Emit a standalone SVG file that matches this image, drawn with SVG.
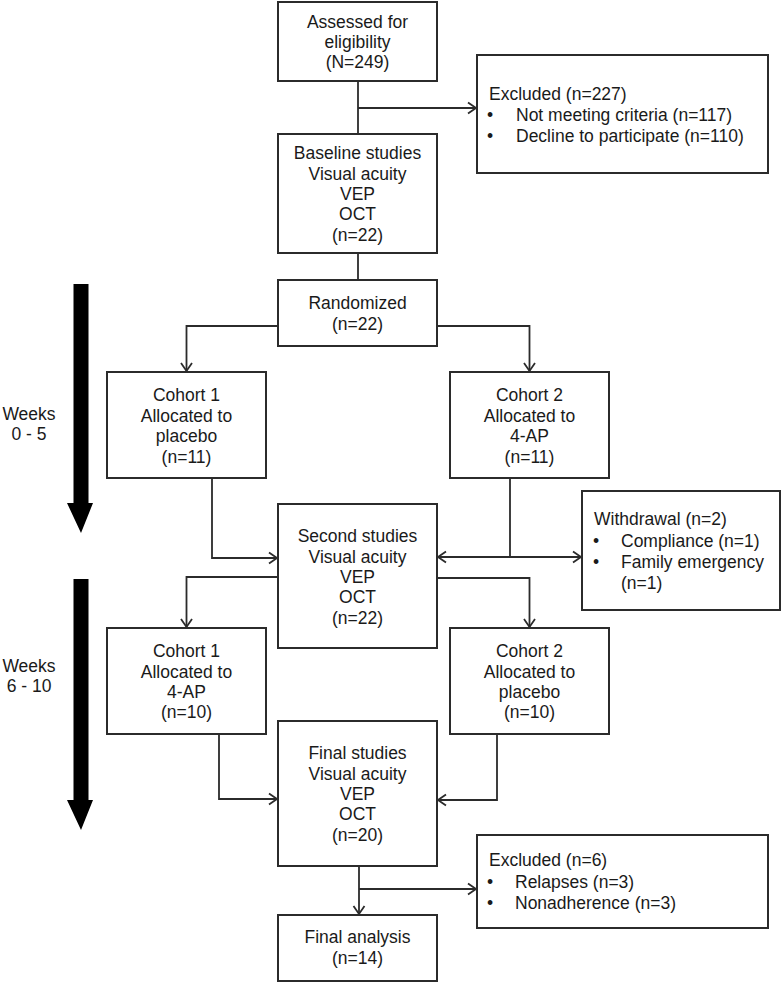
<svg xmlns="http://www.w3.org/2000/svg" width="783" height="983" viewBox="0 0 783 983">
<style>
.box{fill:#fff;stroke:#2b2b2b;stroke-width:2}
.t{font-family:"Liberation Sans",Arial,sans-serif;font-size:17.5px;fill:#1a1a1a}
.c{text-anchor:middle}
.ln{fill:none;stroke:#2b2b2b;stroke-width:1.8}
.big{fill:#000}
</style>
<defs>
<marker id="ah" markerUnits="userSpaceOnUse" markerWidth="12" markerHeight="14" viewBox="-10 -7 12 14" refX="0" refY="0" orient="auto-start-reverse">
<path d="M-8,-5.5 L0,0 L-8,5.5" fill="none" stroke="#2b2b2b" stroke-width="1.8"/>
</marker>
</defs>
<rect width="783" height="983" fill="#fff"/>

<g id="timeline">
<polygon class="big" points="73.5,284 88.5,284 88.5,503 93,503 81,533 67,503 73.5,503"/>
<polygon class="big" points="73.5,579 88.5,579 88.5,800 93,800 81,830 67,800 73.5,800"/>
<text class="t c" x="29" y="420">Weeks</text>
<text class="t c" x="29" y="440">0 - 5</text>
<text class="t c" x="29" y="672">Weeks</text>
<text class="t c" x="29" y="692">6 - 10</text>
</g>

<g id="connectors">
<path class="ln" d="M358,81 V134"/>
<path class="ln" d="M358,108 H476" marker-end="url(#ah)"/>
<path class="ln" d="M358,253 V280"/>
<path class="ln" d="M278,326 H186.5 V371" marker-end="url(#ah)"/>
<path class="ln" d="M437,326 H529.5 V371" marker-end="url(#ah)"/>
<path class="ln" d="M212,478 V558 H277" marker-end="url(#ah)"/>
<path class="ln" d="M510,478 V557"/>
<path class="ln" d="M438,557 H581" marker-start="url(#ah)" marker-end="url(#ah)"/>
<path class="ln" d="M278,577 H186.5 V627" marker-end="url(#ah)"/>
<path class="ln" d="M437,578 H529.5 V627" marker-end="url(#ah)"/>
<path class="ln" d="M219,734 V799 H277" marker-end="url(#ah)"/>
<path class="ln" d="M497,734 V800 H438" marker-end="url(#ah)"/>
<path class="ln" d="M359,866 V914" marker-end="url(#ah)"/>
<path class="ln" d="M359,889 H476" marker-end="url(#ah)"/>
</g>

<g id="assessed">
<rect class="box" x="278" y="2" width="159" height="79"/>
<text class="t c" x="357.5" y="28">Assessed for</text>
<text class="t c" x="357.5" y="48">eligibility</text>
<text class="t c" x="357.5" y="68">(N=249)</text>
</g>

<g id="excluded1">
<rect class="box" x="477" y="55" width="291" height="118"/>
<text class="t" x="489" y="100">Excluded (n=227)</text>
<text class="t" x="487" y="121">•</text>
<text class="t" x="516" y="121">Not meeting criteria (n=117)</text>
<text class="t" x="487" y="142">•</text>
<text class="t" x="516" y="142">Decline to participate (n=110)</text>
</g>

<g id="baseline">
<rect class="box" x="278" y="134" width="159" height="119"/>
<text class="t c" x="357.5" y="159">Baseline studies</text>
<text class="t c" x="357.5" y="179.5">Visual acuity</text>
<text class="t c" x="357.5" y="200">VEP</text>
<text class="t c" x="357.5" y="220">OCT</text>
<text class="t c" x="357.5" y="240.5">(n=22)</text>
</g>

<g id="randomized">
<rect class="box" x="278" y="280" width="159" height="66"/>
<text class="t c" x="357.5" y="309">Randomized</text>
<text class="t c" x="357.5" y="330">(n=22)</text>
</g>

<g id="cohort1a">
<rect class="box" x="107" y="372" width="159" height="106"/>
<text class="t c" x="186.5" y="401">Cohort 1</text>
<text class="t c" x="186.5" y="422">Allocated to</text>
<text class="t c" x="186.5" y="442">placebo</text>
<text class="t c" x="186.5" y="463">(n=11)</text>
</g>

<g id="cohort2a">
<rect class="box" x="450" y="372" width="159" height="106"/>
<text class="t c" x="529.5" y="401">Cohort 2</text>
<text class="t c" x="529.5" y="422">Allocated to</text>
<text class="t c" x="529.5" y="442">4-AP</text>
<text class="t c" x="529.5" y="463">(n=11)</text>
</g>

<g id="second">
<rect class="box" x="278" y="504" width="159" height="144"/>
<text class="t c" x="357.5" y="542">Second studies</text>
<text class="t c" x="357.5" y="563">Visual acuity</text>
<text class="t c" x="357.5" y="583">VEP</text>
<text class="t c" x="357.5" y="603">OCT</text>
<text class="t c" x="357.5" y="623.5">(n=22)</text>
</g>

<g id="withdrawal">
<rect class="box" x="582" y="491" width="198" height="119"/>
<text class="t" x="594" y="525">Withdrawal (n=2)</text>
<text class="t" x="593" y="547">•</text>
<text class="t" x="621" y="547">Compliance (n=1)</text>
<text class="t" x="593" y="568">•</text>
<text class="t" x="621" y="568">Family emergency</text>
<text class="t" x="621" y="589">(n=1)</text>
</g>

<g id="cohort1b">
<rect class="box" x="107" y="628" width="159" height="106"/>
<text class="t c" x="186.5" y="657">Cohort 1</text>
<text class="t c" x="186.5" y="677.5">Allocated to</text>
<text class="t c" x="186.5" y="697.5">4-AP</text>
<text class="t c" x="186.5" y="718">(n=10)</text>
</g>

<g id="cohort2b">
<rect class="box" x="450" y="628" width="159" height="106"/>
<text class="t c" x="529.5" y="657">Cohort 2</text>
<text class="t c" x="529.5" y="677.5">Allocated to</text>
<text class="t c" x="529.5" y="697.5">placebo</text>
<text class="t c" x="529.5" y="718">(n=10)</text>
</g>

<g id="final">
<rect class="box" x="278" y="721" width="159" height="145"/>
<text class="t c" x="357.5" y="759">Final studies</text>
<text class="t c" x="357.5" y="779.5">Visual acuity</text>
<text class="t c" x="357.5" y="800">VEP</text>
<text class="t c" x="357.5" y="820">OCT</text>
<text class="t c" x="357.5" y="840.5">(n=20)</text>
</g>

<g id="excluded2">
<rect class="box" x="477" y="835" width="291" height="93"/>
<text class="t" x="489" y="866">Excluded (n=6)</text>
<text class="t" x="487" y="888">•</text>
<text class="t" x="515" y="888">Relapses (n=3)</text>
<text class="t" x="487" y="909">•</text>
<text class="t" x="515" y="909">Nonadherence (n=3)</text>
</g>

<g id="analysis">
<rect class="box" x="278" y="915" width="159" height="66"/>
<text class="t c" x="357.5" y="943">Final analysis</text>
<text class="t c" x="357.5" y="964">(n=14)</text>
</g>
</svg>
